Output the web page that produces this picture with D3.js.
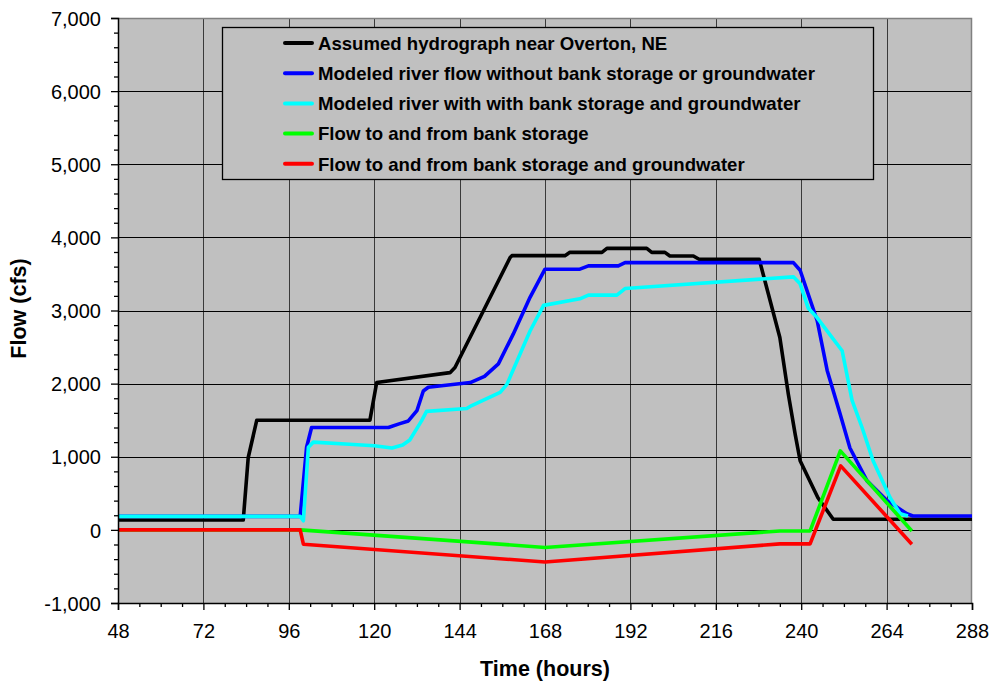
<!DOCTYPE html>
<html>
<head>
<meta charset="utf-8">
<script src="https://cdn.jsdelivr.net/npm/d3@7"></script>
<style>
  body { margin: 0; background: #fff; }
  text { font-family: Arial, "Liberation Sans", sans-serif; }
</style>
</head>
<body>
<div id="chart"></div>
<script>
/* Overton hydrograph / bank storage chart */

// tick labels
const xTicks = [48, 72, 96, 120, 144, 168, 192, 216, 240, 264, 288];
const yTicks = [-1000, 0, 1000, 2000, 3000, 4000, 5000, 6000, 7000];

// series names (legend order)
const seriesNames = [
  "Assumed hydrograph near Overton, NE",
  "Modeled river flow without bank storage or groundwater",
  "Modeled river with with bank storage and groundwater",
  "Flow to and from bank storage",
  "Flow to and from bank storage and groundwater"
];
const seriesColors = ["#000000", "#0000ff", "#00ffff", "#00ff00", "#ff0000"];

// assumed hydrograph
const hydroHours = [48, 83.2, 84.6, 87, 118.8, 120.7, 141.3, 142.7, 158.2, 158.7, 173.6, 175, 184, 185.4, 196.6, 198, 201.7, 203.1, 209.7, 211.3, 228.2, 234, 236.4, 238.3, 239.7, 244.7, 249, 288];
const hydroFlow  = [135, 135, 990, 1500, 1500, 2015, 2150, 2220, 3725, 3750, 3750, 3795, 3795, 3850, 3850, 3795, 3795, 3745, 3745, 3700, 3700, 2630, 1850, 1310, 945, 440, 145, 145];

// modeled flow without bank storage
const noBankHours = [48, 99.2, 101, 102.4, 124, 127, 129.6, 132, 133.8, 135.2, 147, 151, 154.9, 159.1, 163.8, 168, 177.8, 180.2, 188.6, 190.5, 237.8, 239.7, 244.5, 247.3, 250.9, 253.7, 258.5, 264.1, 269.7, 271.4, 288];
const noBankFlow  = [185, 185, 1130, 1400, 1400, 1450, 1490, 1630, 1900, 1950, 2015, 2100, 2270, 2680, 3180, 3565, 3565, 3610, 3610, 3655, 3655, 3550, 2860, 2180, 1590, 1120, 670, 400, 220, 190, 190];

// modeled flow with bank storage and groundwater
const withBankHours = [48, 99.2, 100.1, 101.5, 102.9, 113, 120, 125, 128, 130, 133.3, 134.7, 146, 147.4, 155.4, 157.3, 163.8, 167.6, 177.8, 180.2, 188.2, 190.5, 237.8, 239.7, 242, 244.5, 248.7, 251.5, 254.3, 257.1, 260.2, 265, 267.8, 270];
const withBankFlow  = [185, 185, 125, 1130, 1200, 1170, 1150, 1120, 1160, 1230, 1490, 1620, 1660, 1700, 1880, 1990, 2720, 3070, 3160, 3210, 3210, 3300, 3460, 3365, 3030, 2900, 2630, 2450, 1770, 1400, 945, 440, 220, 190];

// flow to and from bank storage
const bankHours = [48, 99.2, 168, 234, 242.5, 251, 271.1];
const bankFlow  = [0, 0, -240, -15, -15, 1080, -15];

// flow to and from bank storage and groundwater
const bankGwHours = [48, 99.2, 100.1, 168, 234, 242.5, 251.1, 271.1];
const bankGwFlow  = [0, 0, -196, -440, -192, -192, 875, -196];

const seriesHours = [hydroHours, noBankHours, withBankHours, bankHours, bankGwHours];
const seriesFlow = [hydroFlow, noBankFlow, withBankFlow, bankFlow, bankGwFlow];

// set the dimensions of the graph
const margin = {top: 18, right: 20, bottom: 78, left: 118},
width = 992 - margin.left - margin.right,
height = 681 - margin.top - margin.bottom;

const svg = d3.select("#chart")
.append("svg")
.attr("width", width + margin.left + margin.right)
.attr("height", height + margin.top + margin.bottom);
const g = svg.append("g")
.attr("transform", "translate(" + margin.left + "," + margin.top + ")");

const x = d3.scaleLinear().domain([48, 288]).range([0, width]);
const y = d3.scaleLinear().domain([-1000, 7000]).range([height, 0]);

// plot area
g.append("rect")
.attr("width", width)
.attr("height", height)
.attr("fill", "#c0c0c0");

// grid lines
g.append("g").selectAll("line")
.data(xTicks.slice(1, -1))
.join("line")
.attr("x1", d => Math.round(x(d)) + 0.5)
.attr("x2", d => Math.round(x(d)) + 0.5)
.attr("y1", 0)
.attr("y2", height)
.attr("stroke", "#3a3a3a")
.attr("stroke-width", 1);

g.append("g").selectAll("line")
.data(yTicks.slice(1, -1))
.join("line")
.attr("x1", 0)
.attr("x2", width)
.attr("y1", d => Math.round(y(d)) + 0.5)
.attr("y2", d => Math.round(y(d)) + 0.5)
.attr("stroke", "#000")
.attr("stroke-width", 1);

// top/right border
g.append("path")
.attr("d", "M0,0.5H" + (width - 0.5) + "V" + height)
.attr("fill", "none")
.attr("stroke", "#808080")
.attr("stroke-width", 1.5);

// data lines
const line = d3.line()
.x(d => x(d[0]))
.y(d => y(d[1]));

seriesFlow.forEach(function(vals, i) {
  const pts = vals.map((v, j) => [seriesHours[i][j], v]);
  g.append("path")
  .attr("fill", "none")
  .attr("stroke", seriesColors[i])
  .attr("stroke-width", 3.6)
  .attr("stroke-linejoin", "round")
  .attr("d", line(pts));
});

// axes
const fmt = d => (d < 0 ? "-" : "") + d3.format(",")(Math.abs(d));
const yMinor = d3.range(-1000, 7001, 200).filter(d => d % 1000 !== 0);
const xMinor = d3.range(48, 289, 6).filter(d => (d - 48) % 24 !== 0);

const yApp = g.append("g").attr("class", "y axis")
.call(d3.axisLeft(y).tickValues(yTicks).tickSize(7).tickPadding(10).tickFormat(fmt));
g.append("g")
.call(d3.axisLeft(y).tickValues(yMinor).tickSize(4).tickFormat(""))
.select(".domain").remove();

const xApp = g.append("g").attr("class", "x axis")
.attr("transform", "translate(0," + height + ")")
.call(d3.axisBottom(x).tickValues(xTicks).tickSize(7).tickPadding(14));
g.append("g")
.attr("transform", "translate(0," + height + ")")
.call(d3.axisBottom(x).tickValues(xMinor).tickSize(4).tickFormat(""))
.select(".domain").remove();

svg.selectAll(".domain").attr("stroke", "#000").attr("stroke-width", 1.5);
svg.selectAll(".tick line").attr("stroke", "#000").attr("stroke-width", 1.3);
svg.selectAll(".tick text")
.attr("fill", "#000")
.style("font-size", "20px")
.style("font-family", "Arial, 'Liberation Sans', sans-serif");
yApp.selectAll(".tick text").attr("dy", "0.36em");

// axis titles
svg.append("text")
.attr("x", margin.left + width / 2)
.attr("y", 676)
.attr("text-anchor", "middle")
.style("font-size", "21.5px")
.style("font-weight", "bold")
.text("Time (hours)");

svg.append("text")
.attr("transform", "translate(26," + (margin.top + height / 2 - 2) + ") rotate(-90)")
.attr("text-anchor", "middle")
.style("font-size", "21.5px")
.style("font-weight", "bold")
.text("Flow (cfs)");

// legend
const legend = svg.append("g").attr("transform", "translate(222,27)");
legend.append("rect")
.attr("x", 0.5)
.attr("y", 0.5)
.attr("width", 651)
.attr("height", 152)
.attr("fill", "#c0c0c0")
.attr("stroke", "#000")
.attr("stroke-width", 1.3);

const entries = legend.selectAll("g.entry")
.data(seriesNames)
.join("g")
.attr("class", "entry")
.attr("transform", (d, i) => "translate(0," + (16 + i * 30.2) + ")");

entries.append("line")
.attr("x1", 63)
.attr("x2", 90)
.attr("stroke", (d, i) => seriesColors[i])
.attr("stroke-width", 4)
.attr("stroke-linecap", "round");

entries.append("text")
.attr("x", 96)
.attr("dy", "0.36em")
.style("font-size", "18.6px")
.style("font-weight", "bold")
.text(d => d);
</script>
</body>
</html>
